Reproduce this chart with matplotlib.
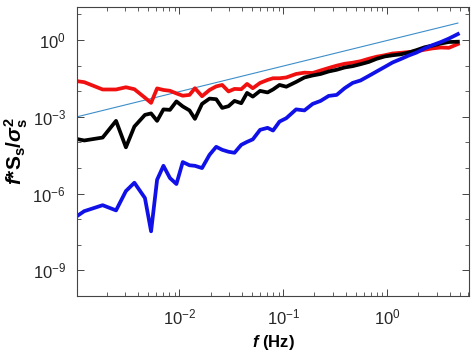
import matplotlib
matplotlib.use("Agg")
import matplotlib.pyplot as plt
from matplotlib.ticker import FixedLocator, LogFormatterSciNotation, NullFormatter

plt.rcParams['font.family'] = ['Liberation Sans', 'DejaVu Sans']
plt.rcParams['mathtext.fontset'] = 'custom'
plt.rcParams['mathtext.rm'] = 'Liberation Sans:bold'
plt.rcParams['mathtext.it'] = 'Liberation Sans:italic:bold'
plt.rcParams['mathtext.bf'] = 'Liberation Sans:bold'

# frequency (Hz)
freq = [1.03e-3, 1.21e-3, 1.82e-3, 2.45e-3, 3.05e-3, 3.68e-3, 4.65e-3, 5.33e-3, 6.09e-3, 7.01e-3,
        8.10e-3, 9.35e-3, 1.076e-2, 1.25e-2, 1.41e-2, 1.65e-2, 1.95e-2, 2.26e-2, 2.58e-2, 2.97e-2,
        3.39e-2, 3.94e-2, 4.48e-2, 5.09e-2, 5.98e-2, 7.06e-2, 7.97e-2, 9.21e-2, 0.107, 0.133,
        0.160, 0.192, 0.229, 0.274, 0.327, 0.390, 0.466, 0.556, 0.665, 0.794,
        0.948, 1.13, 1.36, 1.62, 1.93, 2.31, 2.76, 3.30, 3.94, 4.81]

red = [2.48e-2, 2.26e-2, 1.17e-2, 1.17e-2, 1.43e-2, 1.20e-2, 5.58e-3, 3.50e-3, 1.29e-2, 1.12e-2,
       1.04e-2, 8.20e-3, 6.68e-3, 7.18e-3, 1.31e-2, 6.38e-3, 1.12e-2, 1.54e-2, 1.76e-2, 9.82e-3,
       1.23e-2, 1.20e-2, 1.93e-2, 1.31e-2, 2.11e-2, 2.76e-2, 3.21e-2, 3.21e-2, 3.45e-2, 4.72e-2,
       5.31e-2, 5.16e-2, 6.47e-2, 8.09e-2, 9.95e-2, 0.118, 0.130, 0.149, 0.185, 0.223,
       0.254, 0.298, 0.317, 0.340, 0.362, 0.419, 0.474, 0.511, 0.497, 0.698]

black = [1.36e-4, 1.19e-4, 1.55e-4, 6.95e-4, 6.44e-5, 4.17e-4, 1.19e-3, 1.36e-3, 6.95e-4, 1.95e-3,
         1.87e-3, 4.00e-3, 2.55e-3, 1.78e-3, 8.32e-4, 3.20e-3, 5.15e-3, 4.88e-3, 2.23e-3, 2.60e-3,
         4.19e-3, 3.40e-3, 8.59e-3, 6.15e-3, 1.03e-2, 8.97e-3, 1.17e-2, 1.76e-2, 1.50e-2, 2.31e-2,
         3.45e-2, 4.13e-2, 4.72e-2, 5.92e-2, 6.89e-2, 8.47e-2, 9.53e-2, 0.114, 0.139, 0.185,
         0.228, 0.254, 0.277, 0.326, 0.407, 0.524, 0.611, 0.731, 0.836, 0.859]

blue = [1.32e-7, 2.06e-7, 3.53e-7, 2.21e-7, 1.26e-6, 2.66e-6, 6.73e-7, 3.36e-8, 3.48e-6, 1.22e-5,
        4.06e-6, 2.37e-6, 1.71e-5, 1.28e-5, 1.22e-5, 9.95e-6, 3.29e-5, 6.73e-5, 5.15e-5, 4.31e-5,
        3.94e-5, 8.05e-5, 1.05e-4, 1.32e-4, 3.10e-4, 3.71e-4, 2.91e-4, 6.53e-4, 8.85e-4, 1.95e-3,
        1.78e-3, 3.20e-3, 4.19e-3, 6.56e-3, 7.18e-3, 1.31e-2, 2.11e-2, 2.64e-2, 3.94e-2, 5.92e-2,
        8.85e-2, 0.133, 0.182, 0.249, 0.326, 0.474, 0.638, 0.836, 1.14, 1.71]

# reference slope line
ref_f = [1.03e-3, 4.81]
ref_s = [1.0e-3, 4.6]

fig = plt.figure(figsize=(4.74, 3.58), dpi=100)
ax = fig.add_axes([0.1624, 0.1732, 0.8277, 0.808])

ax.loglog(ref_f, ref_s, color='#3d8ec9', lw=0.8)
ax.loglog(freq, red, color='#f01010', lw=2.7)
ax.loglog(freq, black, color='black', lw=2.7)
ax.loglog(freq, blue, color='#1010e8', lw=2.7)

ax.set_xlim(1.03e-3, 6.2)
ax.set_ylim(1e-10, 20)

ax.xaxis.set_major_locator(FixedLocator([1e-2, 1e-1, 1e0]))
ax.xaxis.set_major_formatter(LogFormatterSciNotation())
ax.xaxis.set_minor_locator(FixedLocator([m * 10.0 ** e for e in range(-3, 1) for m in range(2, 10)]))
ax.xaxis.set_minor_formatter(NullFormatter())
ax.yaxis.set_major_locator(FixedLocator([1e-9, 1e-6, 1e-3, 1e0]))
ax.yaxis.set_major_formatter(LogFormatterSciNotation())
ax.yaxis.set_minor_locator(FixedLocator([10.0 ** e for e in range(-10, 2)]))
ax.yaxis.set_minor_formatter(NullFormatter())

for s in ax.spines.values():
    s.set_color('#444444')
    s.set_linewidth(0.8)
ax.tick_params(which='both', direction='in', top=True, right=True, colors='#444444',
               labelcolor='#262626', labelsize=12)
ax.tick_params(which='major', length=5, width=0.7, pad=8)
ax.tick_params(which='minor', length=3, width=0.6)

ax.set_xlabel(r'$\mathit{f}$ (Hz)', fontsize=12, fontweight='bold', labelpad=4)
ax.set_ylabel(r'$\mathit{f}$*S$_\mathrm{s}$/$\sigma_\mathrm{s}^\mathrm{2}$', fontsize=15,
              fontweight='bold', labelpad=2)

fig.savefig('out.png', dpi=100)
